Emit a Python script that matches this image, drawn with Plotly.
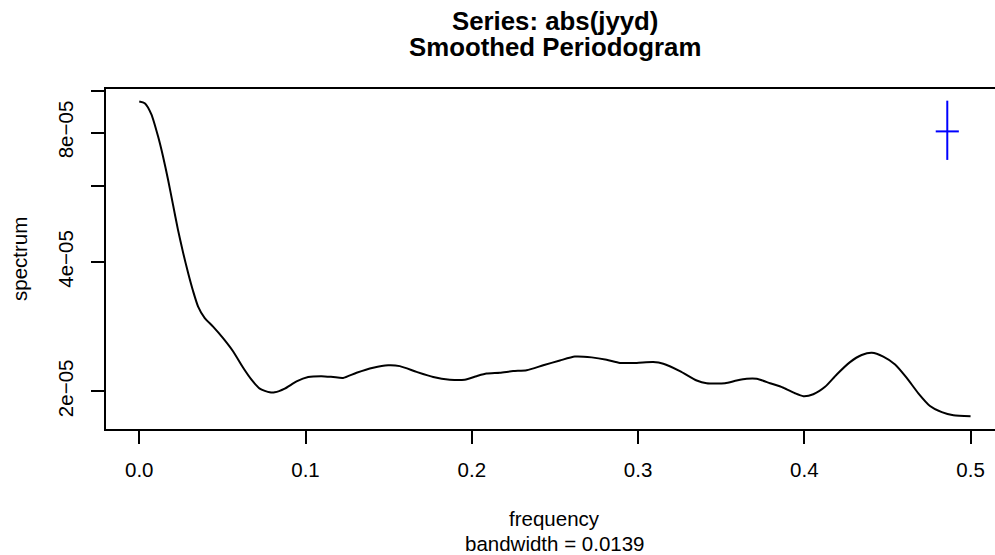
import plotly.graph_objects as go

# Smoothed periodogram
freq = [0.000, 0.0033, 0.0073, 0.0113, 0.0143, 0.0173, 0.0203, 0.0233, 0.0264, 0.0294,
        0.0324, 0.0354, 0.0394, 0.0444, 0.0504, 0.0564, 0.0625, 0.0675, 0.0725, 0.0785,
        0.0815, 0.0875, 0.0946, 0.1016, 0.1096, 0.1166, 0.1226, 0.1307, 0.1407, 0.1497,
        0.1567, 0.1668, 0.1768, 0.1868, 0.1958, 0.2029, 0.2089, 0.2169, 0.2249, 0.2330,
        0.2430, 0.2530, 0.2620, 0.2721, 0.2811, 0.2891, 0.2992, 0.3091, 0.3152, 0.3252,
        0.3353, 0.3413, 0.3523, 0.3593, 0.3653, 0.3714, 0.3794, 0.3874, 0.3944, 0.3994,
        0.4054, 0.4125, 0.4195, 0.4275, 0.4345, 0.4406, 0.4475, 0.4546, 0.4616, 0.4686,
        0.4756, 0.4827, 0.4897, 0.5000]
spec = [9.45e-5, 9.36e-5, 8.82e-5, 7.84e-5, 7.04e-5, 6.22e-5, 5.44e-5, 4.75e-5, 4.20e-5, 3.77e-5,
        3.42e-5, 3.15e-5, 2.96e-5, 2.83e-5, 2.66e-5, 2.48e-5, 2.27e-5, 2.13e-5, 2.03e-5, 1.99e-5,
        1.99e-5, 2.03e-5, 2.11e-5, 2.16e-5, 2.17e-5, 2.16e-5, 2.15e-5, 2.21e-5, 2.27e-5, 2.30e-5,
        2.29e-5, 2.22e-5, 2.16e-5, 2.13e-5, 2.13e-5, 2.17e-5, 2.20e-5, 2.21e-5, 2.23e-5, 2.24e-5,
        2.30e-5, 2.36e-5, 2.41e-5, 2.40e-5, 2.37e-5, 2.33e-5, 2.33e-5, 2.34e-5, 2.32e-5, 2.23e-5,
        2.12e-5, 2.09e-5, 2.09e-5, 2.12e-5, 2.14e-5, 2.14e-5, 2.09e-5, 2.04e-5, 1.98e-5, 1.95e-5,
        1.97e-5, 2.05e-5, 2.19e-5, 2.34e-5, 2.43e-5, 2.46e-5, 2.41e-5, 2.31e-5, 2.15e-5, 1.98e-5,
        1.85e-5, 1.79e-5, 1.76e-5, 1.75e-5]

# Confidence interval / bandwidth cross
ci_freq = 0.486
bandwidth = 0.0139
ci_center = 8.05e-5
ci_low = 6.91e-5
ci_high = 9.49e-5

x_ticks = [0.0, 0.1, 0.2, 0.3, 0.4, 0.5]
x_ticktext = ["0.0", "0.1", "0.2", "0.3", "0.4", "0.5"]
y_ticks = [2e-5, 4e-5, 6e-5, 8e-5, 1e-4]
y_ticktext = ["2e\u221205", "4e\u221205", "", "8e\u221205", ""]

FONT = "Liberation Sans, Arial, Helvetica, sans-serif"

fig = go.Figure()
fig.add_trace(go.Scatter(x=freq, y=spec, mode="lines",
                         line=dict(color="black", width=2, shape="spline", smoothing=0.6),
                         showlegend=False, hoverinfo="skip"))
fig.add_trace(go.Scatter(x=[ci_freq, ci_freq, None, ci_freq - bandwidth / 2, ci_freq + bandwidth / 2],
                         y=[ci_low, ci_high, None, ci_center, ci_center], mode="lines",
                         line=dict(color="#0000FF", width=2), showlegend=False, hoverinfo="skip"))

fig.update_layout(
    width=995, height=555,
    margin=dict(l=106, r=0, t=89, b=126),
    paper_bgcolor="white", plot_bgcolor="white",
    font=dict(family=FONT, size=20.5, color="black"),
    xaxis=dict(range=[-0.02, 0.5147], tickvals=x_ticks, ticktext=x_ticktext,
               showgrid=False, zeroline=False, showline=True, mirror=True,
               linecolor="black", linewidth=2, ticks="outside", ticklen=13,
               tickwidth=1.5, tickcolor="black", ticklabelstandoff=8),
    yaxis=dict(type="log", range=[-4.7864, -3.9956], tickvals=y_ticks, ticktext=y_ticktext,
               showgrid=False, zeroline=False, showline=True, mirror=False,
               linecolor="black", linewidth=2, ticks="outside", ticklen=13,
               tickwidth=1.5, tickcolor="black", tickangle=-90, ticklabelstandoff=10),
    annotations=[
        dict(text="<b>Series: abs(jyyd)</b>", x=0.25, xref="x", y=1.2, yref="paper",
             showarrow=False, font=dict(size=25.8), xanchor="center", yanchor="middle"),
        dict(text="<b>Smoothed Periodogram</b>", x=0.25, xref="x", y=1.1235, yref="paper",
             showarrow=False, font=dict(size=25.8), xanchor="center", yanchor="middle"),
        dict(text="frequency", x=0.25, xref="x", y=-0.2618, yref="paper",
             showarrow=False, xanchor="center", yanchor="middle"),
        dict(text="bandwidth = 0.0139", x=0.25, xref="x", y=-0.3382, yref="paper",
             showarrow=False, xanchor="center", yanchor="middle"),
        dict(text="spectrum", x=-0.0979, xref="paper", y=0.5, yref="paper",
             showarrow=False, textangle=-90, xanchor="center", yanchor="middle"),
    ],
)

fig.write_html("out.html")
